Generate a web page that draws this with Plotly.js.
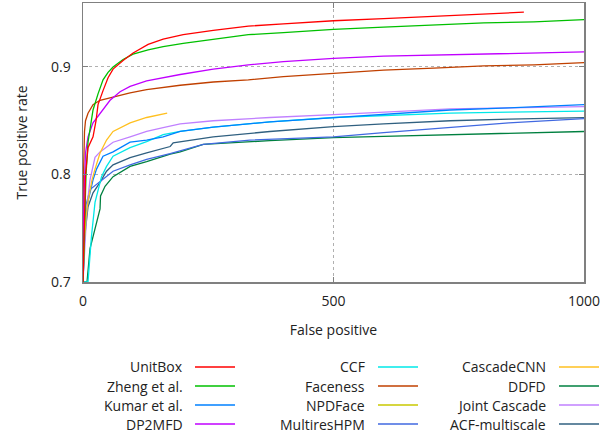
<!DOCTYPE html>
<html>
<head>
<meta charset="utf-8">
<script src="https://cdn.plot.ly/plotly-3.0.1.min.js"></script>
<style>html,body{margin:0;padding:0;background:#fff;}#chart{width:609px;height:435px;}</style>
</head>
<body>
<div id="chart"></div>
<script>
// ---- Data ----
const seriesNames = ["UnitBox","Zheng et al.","Kumar et al.","DP2MFD","CCF","Faceness","NPDFace","MultiresHPM","CascadeCNN","DDFD","Joint Cascade","ACF-multiscale"];
const seriesColors = ["#ff0000","#00c000","#0080ff","#c000ff","#00e8e8","#c04000","#c8c800","#4169e1","#ffc020","#008040","#c080ff","#306080"];

const fpUnitBox  = [0,2,5,10,20,26,30,40,50,60,80,100,130,160,200,260,330,400,500,600,700,800,880];
const tprUnitBox = [0.70,0.75,0.80,0.825,0.835,0.85,0.865,0.878,0.89,0.898,0.906,0.913,0.921,0.926,0.930,0.934,0.938,0.940,0.943,0.945,0.947,0.949,0.951];

const fpZheng  = [0,3,6,10,15,20,30,40,50,60,80,100,130,160,200,260,330,400,500,600,700,800,900,1000];
const tprZheng = [0.70,0.75,0.80,0.83,0.845,0.86,0.875,0.888,0.895,0.90,0.907,0.912,0.916,0.919,0.922,0.926,0.930,0.932,0.935,0.937,0.939,0.941,0.942,0.944];

const fpKumar  = [0,3,6,10,14,20,27,34,40,60,94,127,160,194,260,373,500,600,733,850,1000];
const tprKumar = [0.70,0.74,0.76,0.775,0.783,0.795,0.805,0.812,0.817,0.821,0.830,0.832,0.835,0.840,0.844,0.849,0.853,0.856,0.860,0.862,0.865];

const fpDP2MFD  = [0,2,5,10,20,34,54,74,94,127,194,260,330,400,500,600,700,800,900,1000];
const tprDP2MFD = [0.70,0.78,0.82,0.835,0.848,0.857,0.869,0.877,0.882,0.887,0.893,0.898,0.902,0.905,0.908,0.910,0.911,0.912,0.913,0.914];

const fpCCF  = [0,10,14,17,24,30,37,47,60,94,127,160,194,260,373,500,600,733,850,1000];
const tprCCF = [0.70,0.70,0.725,0.743,0.774,0.786,0.798,0.8075,0.817,0.825,0.8305,0.837,0.840,0.844,0.849,0.853,0.855,0.857,0.858,0.859];

const fpFaceness  = [0,1,3,5,10,20,34,60,94,127,194,260,330,400,500,600,700,800,900,1000];
const tprFaceness = [0.70,0.80,0.84,0.85,0.857,0.865,0.869,0.872,0.876,0.879,0.883,0.886,0.888,0.891,0.894,0.897,0.899,0.901,0.902,0.904];

const fpNPDFace  = [0,1,2,3,4];
const tprNPDFace = [0.70,0.72,0.735,0.75,0.76];

const fpMultires  = [0,3,5,14,34,60,94,127,174,200,240,333,500,600,733,850,1000];
const tprMultires = [0.70,0.75,0.77,0.786,0.7935,0.803,0.809,0.814,0.8194,0.823,0.828,0.832,0.835,0.839,0.8435,0.848,0.852];

const fpCascadeCNN  = [0,3,6,10,14,18,24,34,47,60,94,127,168];
const tprCascadeCNN = [0.72,0.745,0.76,0.775,0.785,0.795,0.805,0.82,0.832,0.84,0.848,0.853,0.857];

const fpDDFD  = [0,8,14,24,34,35,44,60,94,127,174,194,240,373,500,600,733,850,1000];
const tprDDFD = [0.70,0.70,0.731,0.749,0.768,0.78,0.789,0.798,0.8075,0.812,0.819,0.821,0.828,0.8315,0.8343,0.8355,0.837,0.8385,0.840];

const fpJoint  = [0,3,8,14,20,24,34,60,94,127,160,194,260,373,500,600,733,850,1000];
const tprJoint = [0.70,0.73,0.77,0.795,0.807,0.816,0.821,0.830,0.835,0.840,0.8435,0.847,0.850,0.853,0.8556,0.858,0.861,0.862,0.8632];

const fpACF  = [0,3,10,20,34,47,60,94,127,174,180,194,260,373,500,600,733,850,1000];
const tprACF = [0.70,0.74,0.77,0.783,0.7926,0.803,0.809,0.8157,0.820,0.826,0.8295,0.8305,0.835,0.840,0.8445,0.847,0.850,0.8515,0.8528];

const xTicks = [0,500,1000];
const yTicks = [0.7,0.8,0.9];

const seriesX = [fpUnitBox,fpZheng,fpKumar,fpDP2MFD,fpCCF,fpFaceness,fpNPDFace,fpMultires,fpCascadeCNN,fpDDFD,fpJoint,fpACF];
const seriesY = [tprUnitBox,tprZheng,tprKumar,tprDP2MFD,tprCCF,tprFaceness,tprNPDFace,tprMultires,tprCascadeCNN,tprDDFD,tprJoint,tprACF];

// ---- Layout geometry ----
const W = 609, H = 435, L = 83, R = 25, T = 3, B = 153;
const pw = W - L - R, ph = H - T - B;
const px2x = p => (p - L) / pw;
const py2y = p => (H - B - p) / ph;

// draw order: back to front
const order = [11,9,7,10,4,2,8,6,5,3,1,0];
const traces = order.map(i => ({
  x: seriesX[i], y: seriesY[i], name: seriesNames[i], type: 'scatter', mode: 'lines',
  line: {color: seriesColors[i], width: 1.3}, showlegend: false
}));

// legend (3 columns, text right-aligned with a line sample to its right)
const colTextEnd = [185, 367, 548];
const colLineStart = [195, 378, 559];
const lineLen = 40;
const rowY = [367, 386, 405, 424];
const annotations = [];
const shapes = [];
seriesNames.forEach((nm, i) => {
  const c = Math.floor(i / 4), r = i % 4;
  annotations.push({
    xref: 'paper', yref: 'paper', x: px2x(colTextEnd[c]), y: py2y(rowY[r]),
    xanchor: 'right', yanchor: 'middle', text: nm, showarrow: false,
    font: {family: 'Open Sans', size: 14, color: '#222'}
  });
  shapes.push({
    type: 'line', xref: 'paper', yref: 'paper',
    x0: px2x(colLineStart[c]), x1: px2x(colLineStart[c] + lineLen),
    y0: py2y(rowY[r]), y1: py2y(rowY[r]),
    line: {color: seriesColors[i], width: 1.5}
  });
});

const layout = {
  width: W, height: H,
  margin: {l: L, r: R, t: T, b: B, pad: 0},
  paper_bgcolor: '#fff', plot_bgcolor: '#fff',
  font: {family: 'Open Sans', size: 14, color: '#222'},
  showlegend: false,
  xaxis: {
    range: [0, 1000], tickvals: xTicks, ticktext: xTicks.map(String),
    ticks: 'inside', ticklen: 5, tickcolor: '#808080', tickwidth: 1,
    showline: true, linecolor: '#808080', linewidth: 1.5, mirror: 'ticks',
    showgrid: true, gridcolor: '#b0b0b0', griddash: 'dot', gridwidth: 1,
    zeroline: false, ticklabelstandoff: 6,
    title: {text: 'False positive', standoff: 16, font: {size: 14}}
  },
  yaxis: {
    range: [0.7, 0.9595], tickvals: yTicks, ticktext: yTicks.map(v => v.toFixed(1)),
    ticks: 'inside', ticklen: 5, tickcolor: '#808080', tickwidth: 1,
    showline: true, linecolor: '#808080', linewidth: 1.5, mirror: 'ticks',
    showgrid: true, gridcolor: '#b0b0b0', griddash: 'dot', gridwidth: 1,
    zeroline: false, ticklabelstandoff: 8,
    title: {text: 'True positive rate', standoff: 20, font: {size: 14}}
  },
  annotations: annotations,
  shapes: shapes
};

Plotly.newPlot('chart', traces, layout, {staticPlot: true, displayModeBar: false});
</script>
</body>
</html>
